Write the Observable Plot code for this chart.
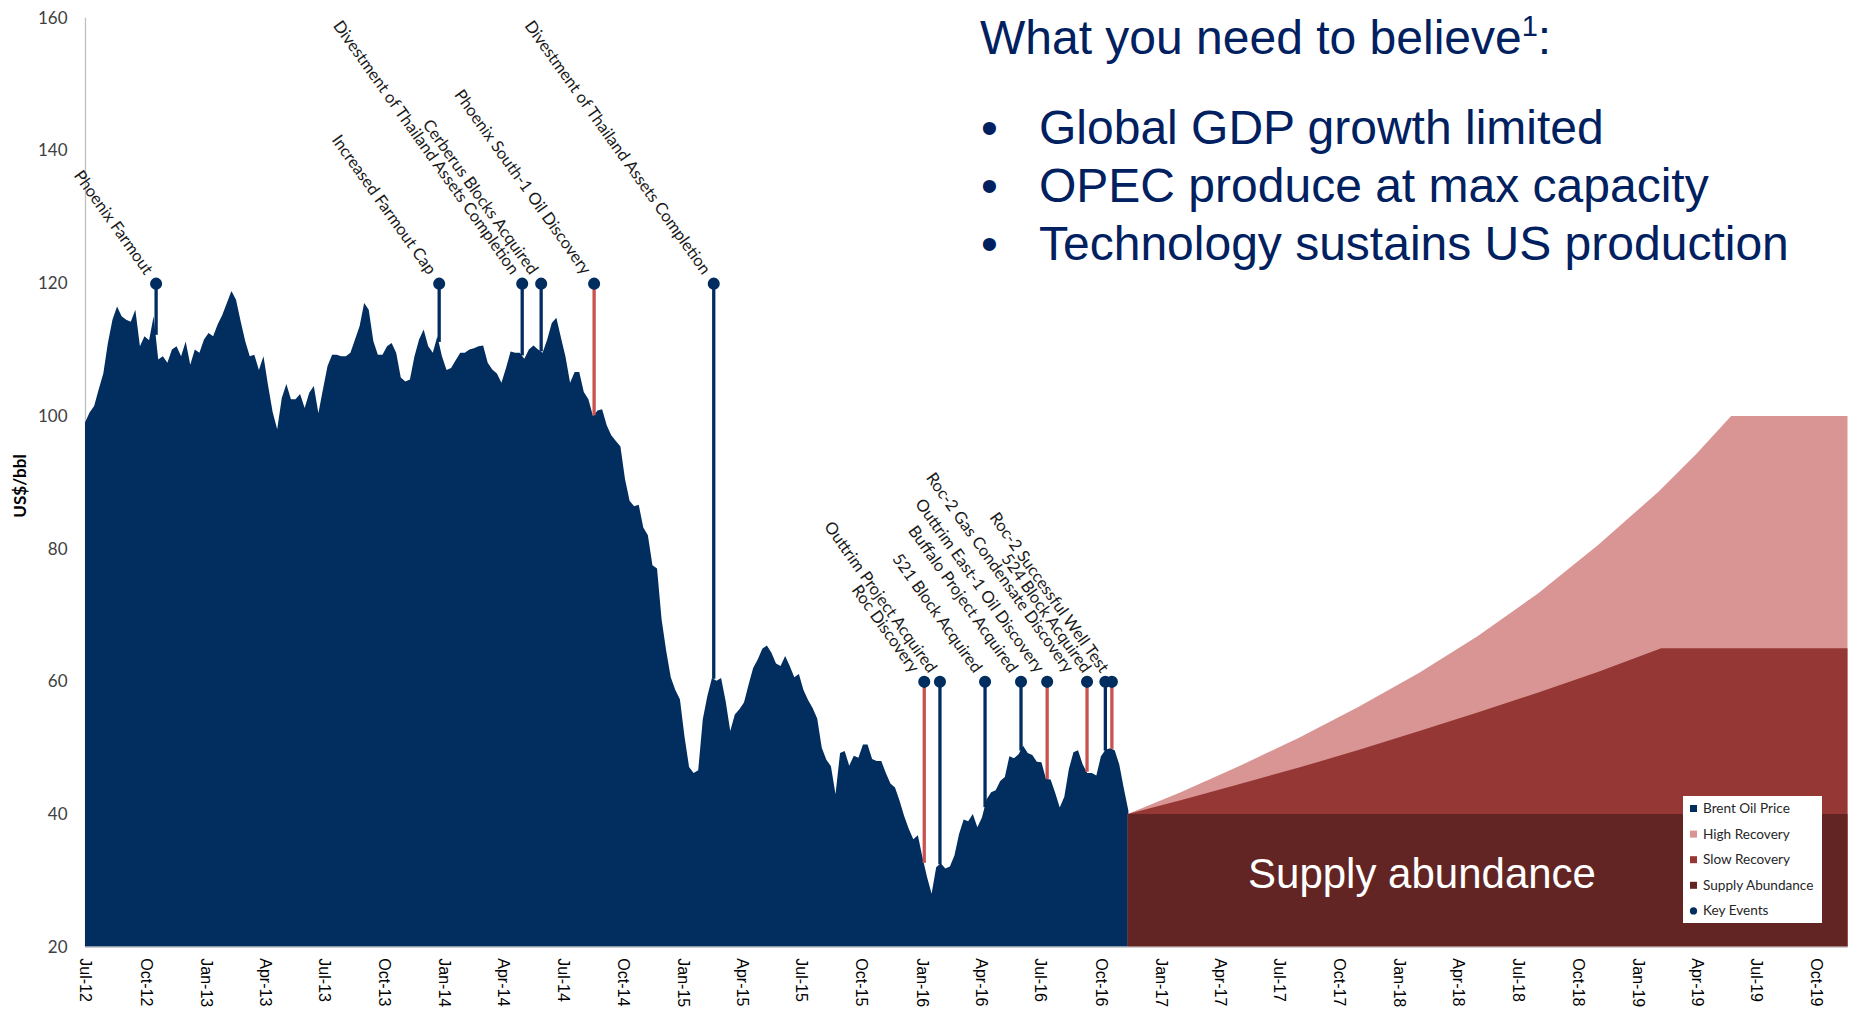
<!DOCTYPE html>
<html>
<head>
<meta charset="utf-8">
<script src="https://cdn.jsdelivr.net/npm/d3@7"></script>
<script src="https://cdn.jsdelivr.net/npm/@observablehq/plot@0.6"></script>
<style>
  body { margin: 0; background: #fff; }
  #wrap { position: relative; width: 1851px; height: 1012px; overflow: hidden; }
  #ov { position: absolute; left: 0; top: 0; pointer-events: none; }
</style>
</head>
<body>
<div id="wrap"><div id="chart"></div></div>
<script>
// ---------------- DATA ----------------
const brentStart = "2012-07-01"; // first weekly observation
const brentWeekly = [
  99,100.5,101.5,104,106.4,111,114.5,116.5,115,114.5,114.2,116,110.5,112,111.4,115,108.5,109,108,110,
  110.5,109,111.2,107.7,110,109.5,111.5,112.5,112,113.8,115.2,117,118.8,117.5,114.3,111.3,109,109.2,106.9,109,
  104.6,100.6,98,102.7,104.8,102.5,102.5,103.3,101.2,103.5,104.5,100.4,104,107.5,109.2,109.2,109,109,109.5,111.5,
  113.5,117,116,111.3,109.2,109.2,110.5,111,109.5,105.8,105.2,105.5,109,111.5,113,110.5,109.5,112,109,106.9,
  107.2,108.4,109.5,109.5,110,110.2,110.5,110.6,108,107,106.4,105,107.2,109.7,109.5,109.5,108.6,110,110.6,110,
  109.5,111.5,114,114.8,111.8,108.9,105,106.6,106.6,103.6,102.5,100,100.8,101,98.6,97.1,96.2,95.4,90.5,87.2,
  86.4,86.6,83.2,82,77.5,77,69.3,64.6,60.6,58.7,57.3,51.7,47.1,46.2,46.6,54.3,57.8,60.5,60.1,60.5,
  57,52.5,55,55.8,56.8,59.5,62,63.3,64.9,65.4,64.3,62.7,62.3,63.8,62.3,60.6,61.1,58.7,57.2,56,
  54.4,50,48.2,47.2,43,49.2,49.5,47.3,48.8,48.5,50.5,50.5,48.3,48,48,46.2,44.6,44,42,39.7,
  37.8,36.2,36.8,33.5,30.5,28,32,32.6,31.8,32.1,33.8,37,39.2,38.9,40,38,39.5,42.2,43.3,43.6,
  45,45.6,48.7,48.4,49,50.3,49.2,48.9,47.9,47.8,45.3,45.2,43.2,41,42.6,46.8,49.3,49.6,47.5,46.2,
  46.2,45.8,48.7,49.7,49.9,49.6,47.5,43.9,40.5
];

const highDates = ["2016-11-12","2017-02-01","2017-05-01","2017-08-01","2017-11-01","2018-02-01","2018-05-01",
  "2018-08-01","2018-11-01","2019-02-01","2019-04-01","2019-05-24","2019-11-18"];
const highValues = [40,43.3,47.2,51.5,56.2,61.3,66.8,73.2,80.5,88.5,94.3,100,100];
const slowDates = ["2016-11-12","2017-02-01","2017-05-01","2017-08-01","2017-11-01","2018-02-01","2018-05-01",
  "2018-08-01","2018-11-01","2019-02-06","2019-11-18"];
const slowValues = [40,42.1,44.5,47.0,49.7,52.5,55.3,58.3,61.4,65,65];
const abundanceDates = ["2016-11-12","2019-11-18"];
const abundanceValues = [40,40];

const eventNames = ["Phoenix Farmout","Increased Farmout Cap","Divestment of Thailand Assets Completion","Cerberus Blocks Acquired",
  "Phoenix South-1 Oil Discovery","Divestment of Thailand Assets Completion","Roc Discovery","Outtrim Project Acquired",
  "521 Block Acquired","Buffalo Project Acquired","Outtrim East-1 Oil Discovery","Roc-2 Gas Condensate Discovery",
  "524 Block Acquired","Roc-2 Successful Well Test"];
const eventDates = ["2012-10-17","2013-12-24","2014-04-30","2014-05-29","2014-08-18","2015-02-17","2016-01-05","2016-01-29",
  "2016-04-07","2016-06-01","2016-07-11","2016-09-10","2016-10-08","2016-10-18"];
const eventLevels = [120,120,120,120,120,120,60,60,60,60,60,60,60,60];
const eventKinds = ["base","base","base","base","discovery","base","discovery","base","base","base","discovery","discovery","base","discovery"];

const xDomain = ["2012-07-01","2019-11-18"];
const yTicks = [20,40,60,80,100,120,140,160];
const xTickStart = "2012-07-01", xTickEnd = "2019-10-02";

const titleText = "What you need to believe";
const bullets = ["Global GDP growth limited","OPEC produce at max capacity","Technology sustains US production"];
const legendNames = ["Brent Oil Price","High Recovery","Slow Recovery","Supply Abundance","Key Events"];
const yLabel = "US$/bbl";
const regionLabel = "Supply abundance";

// ---------------- STYLE ----------------
const NAVY = "#012d5f", PINK = "#d99594", SLOW = "#953735", ABUND = "#632523", RED = "#c9524f";
const kindColor = {base: NAVY, discovery: RED};

// ---------------- BUILD ----------------
const DAY = 864e5;
const t0 = new Date(brentStart);
const brent = brentWeekly.map((v, i) => ({date: new Date(+t0 + i * 7 * DAY), value: v}));
const mk = (ds, vs) => ds.map((d, i) => ({date: new Date(d), value: vs[i]}));
const high = mk(highDates, highValues), slow = mk(slowDates, slowValues), abund = mk(abundanceDates, abundanceValues);

function priceAt(d) {
  const t = (d - t0) / (7 * DAY);
  const i = Math.max(0, Math.min(brentWeekly.length - 1, Math.floor(t)));
  const j = Math.min(brentWeekly.length - 1, i + 1);
  const f = Math.max(0, Math.min(1, t - i));
  return brentWeekly[i] * (1 - f) + brentWeekly[j] * f;
}

const events = eventNames.map((name, i) => ({
  name, date: new Date(eventDates[i]), level: eventLevels[i], color: kindColor[eventKinds[i]]
}));
events.forEach(e => e.price = priceAt(e.date));
// simple label dodge so neighbouring labels do not overprint
for (const lvl of new Set(eventLevels)) {
  const g = events.filter(e => e.level === lvl).sort((a, b) => a.date - b.date);
  for (let i = g.length - 1; i >= 0; i--) {
    g[i].labelDate = i === g.length - 1 ? g[i].date : new Date(Math.min(+g[i].date, +g[i + 1].labelDate - 27 * DAY));
  }
}

const W = 1851, H = 1012;
const mL = 85, mR = 3.5, mT = 17.7, mB = 65.2;

const chart = Plot.plot({
  width: W, height: H,
  marginLeft: mL, marginRight: mR, marginTop: mT, marginBottom: mB,
  x: {type: "utc", domain: xDomain.map(d => new Date(d))},
  y: {domain: [yTicks[0], yTicks[yTicks.length - 1]]},
  color: {type: "identity"},
  style: {background: "transparent", fontFamily: "Lato, sans-serif"},
  marks: [
    Plot.ruleX([new Date(xDomain[0])], {stroke: "#bfbfbf", strokeWidth: 1.3}),
    Plot.areaY(brent, {x: "date", y1: yTicks[0], y2: "value", fill: NAVY}),
    Plot.areaY(high, {x: "date", y1: yTicks[0], y2: "value", fill: PINK}),
    Plot.areaY(slow, {x: "date", y1: yTicks[0], y2: "value", fill: SLOW}),
    Plot.areaY(abund, {x: "date", y1: yTicks[0], y2: "value", fill: ABUND}),
    Plot.ruleY([yTicks[0]], {stroke: "#cfcfcf", strokeWidth: 1.5}),
    Plot.ruleX(events, {x: "date", y1: "price", y2: "level", stroke: "color", strokeWidth: 3.3}),
    Plot.dot(events, {x: "date", y: "level", r: 5.3, fill: NAVY, stroke: NAVY}),
    Plot.text(events, {x: "labelDate", y: "level", text: "name", rotate: 54.5, textAnchor: "end",
      dx: -7, dy: -11, fontSize: 16.5, fontFamily: "Lato, sans-serif", fill: "#1a1a1a"}),
    Plot.axisY({ticks: yTicks, tickSize: 0, tickPadding: 18, fontSize: 17, fontFamily: "Lato, sans-serif",
      fill: "#404040", label: null}),
    Plot.axisX({ticks: d3.utcMonths(new Date(xTickStart), new Date(xTickEnd), 3), tickFormat: d3.utcFormat("%b-%y"),
      tickRotate: 90, tickSize: 0, tickPadding: 11, fontSize: 16, fontFamily: "Liberation Sans, Arial, sans-serif",
      fill: "#000", label: null})
  ]
});
document.getElementById("chart").appendChild(chart);

// ---------------- OVERLAY TEXT / LEGEND ----------------
const ov = d3.select("#wrap").append("svg").attr("id", "ov").attr("width", W).attr("height", H);
const tf = "Liberation Sans, Arial, sans-serif";
const FS = 48;
const title = ov.append("text").attr("x", 980).attr("y", 54).attr("font-family", tf).attr("font-size", FS).attr("fill", "#002060");
title.append("tspan").text(titleText);
title.append("tspan").attr("font-size", 29).attr("dy", -18).text("1");
title.append("tspan").attr("dy", 18).text(":");
bullets.forEach((b, i) => {
  const y = 144 + i * 58;
  ov.append("text").attr("x", 981).attr("y", y).attr("font-family", tf).attr("font-size", FS).attr("fill", "#002060").text("•");
  ov.append("text").attr("x", 1039).attr("y", y).attr("font-family", tf).attr("font-size", FS).attr("fill", "#002060").text(b);
});
ov.append("text").attr("transform", "translate(26,486) rotate(-90)").attr("text-anchor", "middle")
  .attr("font-family", "Lato, sans-serif").attr("font-weight", "bold").attr("font-size", 17).attr("fill", "#000").text(yLabel);
ov.append("text").attr("x", 1422).attr("y", 888).attr("text-anchor", "middle").attr("font-family", tf)
  .attr("font-size", 42).attr("fill", "#fff").text(regionLabel);

const lg = ov.append("g");
lg.append("rect").attr("x", 1683).attr("y", 796).attr("width", 139).attr("height", 127).attr("fill", "#fff");
const legendColors = [NAVY, PINK, SLOW, ABUND, NAVY];
legendNames.forEach((n, i) => {
  const cy = 808.5 + i * 25.6;
  if (i < 4) lg.append("rect").attr("x", 1690).attr("y", cy - 3.5).attr("width", 7).attr("height", 7).attr("fill", legendColors[i]);
  else lg.append("circle").attr("cx", 1693.5).attr("cy", cy).attr("r", 3.6).attr("fill", legendColors[i]);
  lg.append("text").attr("x", 1703).attr("y", cy + 4.5).attr("font-family", "Lato, sans-serif").attr("font-size", 13.6)
    .attr("fill", "#262626").text(n);
});
</script>
</body>
</html>
